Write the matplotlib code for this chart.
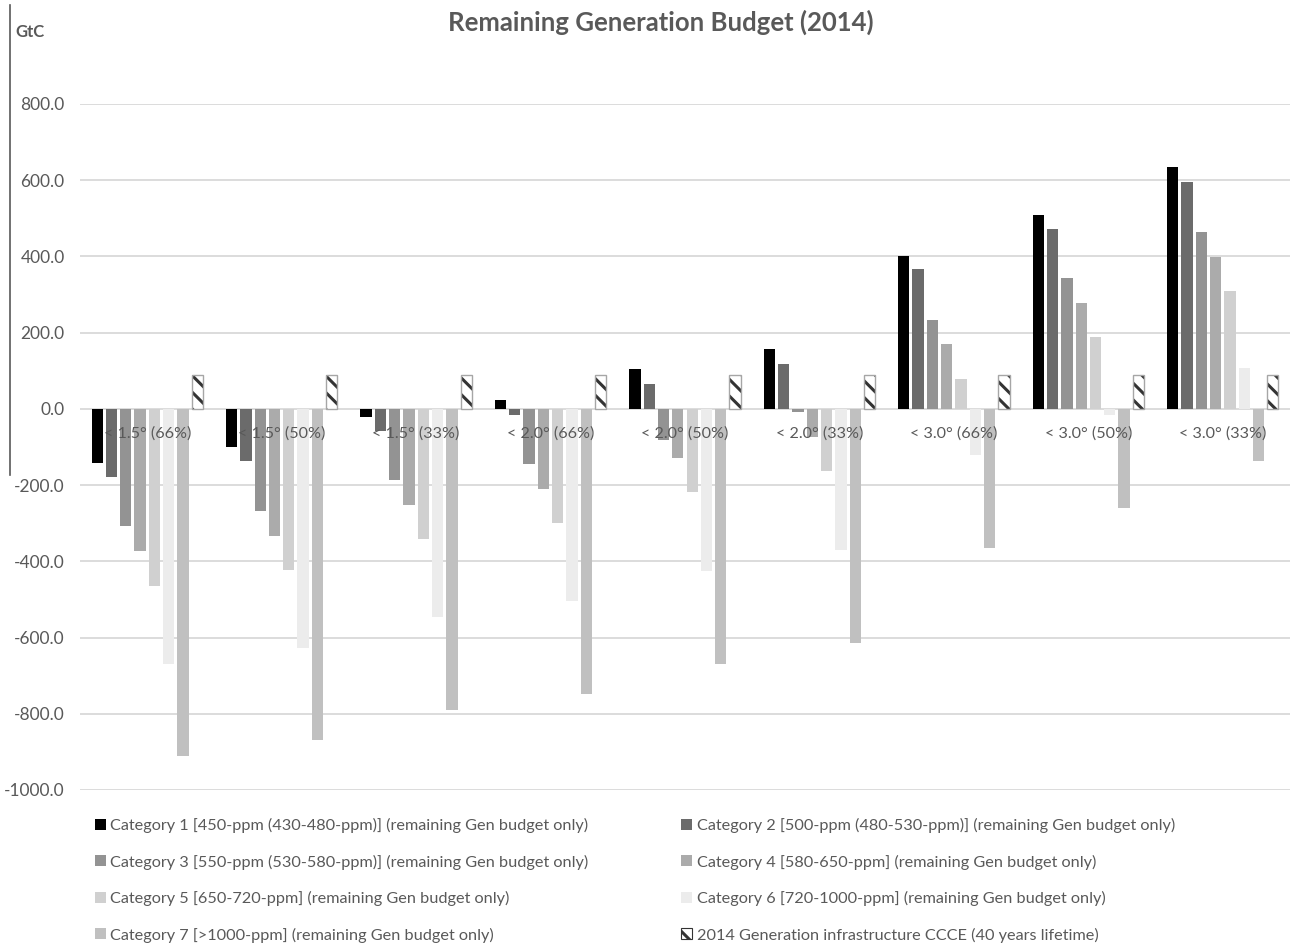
import matplotlib
matplotlib.use("Agg")
import matplotlib.pyplot as plt
from matplotlib.lines import Line2D
from matplotlib.patches import Patch
import numpy as np

plt.rcParams["font.family"] = ["Lato", "DejaVu Sans"]
plt.rcParams["hatch.linewidth"] = 2.2

groups = ["< 1.5° (66%)", "< 1.5° (50%)", "< 1.5° (33%)",
          "< 2.0° (66%)", "< 2.0° (50%)", "< 2.0° (33%)",
          "< 3.0° (66%)", "< 3.0° (50%)", "< 3.0° (33%)"]

series_names = [
    "Category 1 [450-ppm (430-480-ppm)] (remaining Gen budget only)",
    "Category 2 [500-ppm (480-530-ppm)] (remaining Gen budget only)",
    "Category 3 [550-ppm (530-580-ppm)] (remaining Gen budget only)",
    "Category 4 [580-650-ppm] (remaining Gen budget only)",
    "Category 5 [650-720-ppm] (remaining Gen budget only)",
    "Category 6 [720-1000-ppm] (remaining Gen budget only)",
    "Category 7 [>1000-ppm] (remaining Gen budget only)",
    "2014 Generation infrastructure CCCE (40 years lifetime)",
]

cat1 = [-142, -101, -20, 24, 104, 157, 402, 509, 634]
cat2 = [-179, -138, -58, -16, 64, 118, 366, 473, 595]
cat3 = [-306, -268, -186, -145, -82, -9, 233, 344, 465]
cat4 = [-374, -333, -253, -211, -130, -75, 170, 277, 398]
cat5 = [-466, -422, -341, -300, -219, -163, 79, 189, 310]
cat6 = [-669, -627, -547, -505, -425, -369, -122, -17, 108]
cat7 = [-912, -870, -790, -748, -669, -613, -365, -259, -138]
ccce = [89, 89, 89, 89, 89, 89, 89, 89, 89]

series = [cat1, cat2, cat3, cat4, cat5, cat6, cat7, ccce]
colors = ["#000000", "#6b6b6b", "#939393", "#ababab", "#d0d0d0", "#ececec", "#c0c0c0", "#ffffff"]

yticks = [800, 600, 400, 200, 0, -200, -400, -600, -800, -1000]

text_gray = "#595959"
grid_gray = "#d9d9d9"

fig = plt.figure(figsize=(12.92, 9.43), dpi=100)
W, H = 1292, 943
ax = fig.add_axes([80 / W, 1 - 790 / H, (1290 - 80) / W, (790 - 104) / H])

x = np.arange(len(groups))
slot = 0.1064
width = 0.084
handles = []
for j, (vals, col, name) in enumerate(zip(series, colors, series_names)):
    pos = x + (j - 3.5) * slot
    if j == 7:
        ax.bar(pos, vals, width, color="white", edgecolor="#333333",
               hatch="\\\\", linewidth=0, zorder=3)
        ax.bar(pos, vals, width, color="none", edgecolor="#a6a6a6",
               linewidth=1.0, zorder=4)
        handles.append(Patch(facecolor="white", edgecolor="#333333", hatch="\\\\",
                             linewidth=0.8, label=name))
    else:
        ax.bar(pos, vals, width, color=col, linewidth=0, zorder=3)
        handles.append(Patch(facecolor=col, edgecolor="none", label=name))

ax.set_xlim(-0.5, len(groups) - 0.5)
ax.set_ylim(-1000, 800)
ax.set_yticks(yticks)
ax.set_yticklabels([f"{v:.1f}" for v in yticks], color=text_gray, fontsize=12.5)
ax.tick_params(axis="y", length=0, pad=11)
ax.set_xticks([])
for v in yticks:
    ax.axhline(v, color=grid_gray, linewidth=1.3, zorder=1)
for s in ax.spines.values():
    s.set_visible(False)

for i, g in enumerate(groups):
    ax.text(i, -64, g, ha="center", va="center", fontsize=11.6, color=text_gray, zorder=6)

fig.text(661 / W, 1 - 22 / H, "Remaining Generation Budget (2014)", ha="center", va="center",
         fontsize=18.5, fontweight="bold", color=text_gray)
fig.text(15 / W, 1 - 32 / H, "GtC", ha="left", va="center", fontsize=12,
         fontweight="bold", color=text_gray)
fig.add_artist(Line2D([10 / W, 10 / W], [1 - 5 / H, 1 - 475 / H], color=text_gray,
                      linewidth=1.2, transform=fig.transFigure))

order = [0, 2, 4, 6, 1, 3, 5, 7]
leg = fig.legend([handles[k] for k in order], [series_names[k] for k in order],
                 ncol=2, loc="upper left", bbox_to_anchor=(95 / W, 1 - 818 / H),
                 frameon=False, fontsize=11.7, handlelength=0.65, handleheight=0.65,
                 handletextpad=0.3, labelspacing=1.32, columnspacing=5.7,
                 borderaxespad=0, borderpad=0)
for t in leg.get_texts():
    t.set_color(text_gray)

fig.savefig("out.png", dpi=100, facecolor="white")
